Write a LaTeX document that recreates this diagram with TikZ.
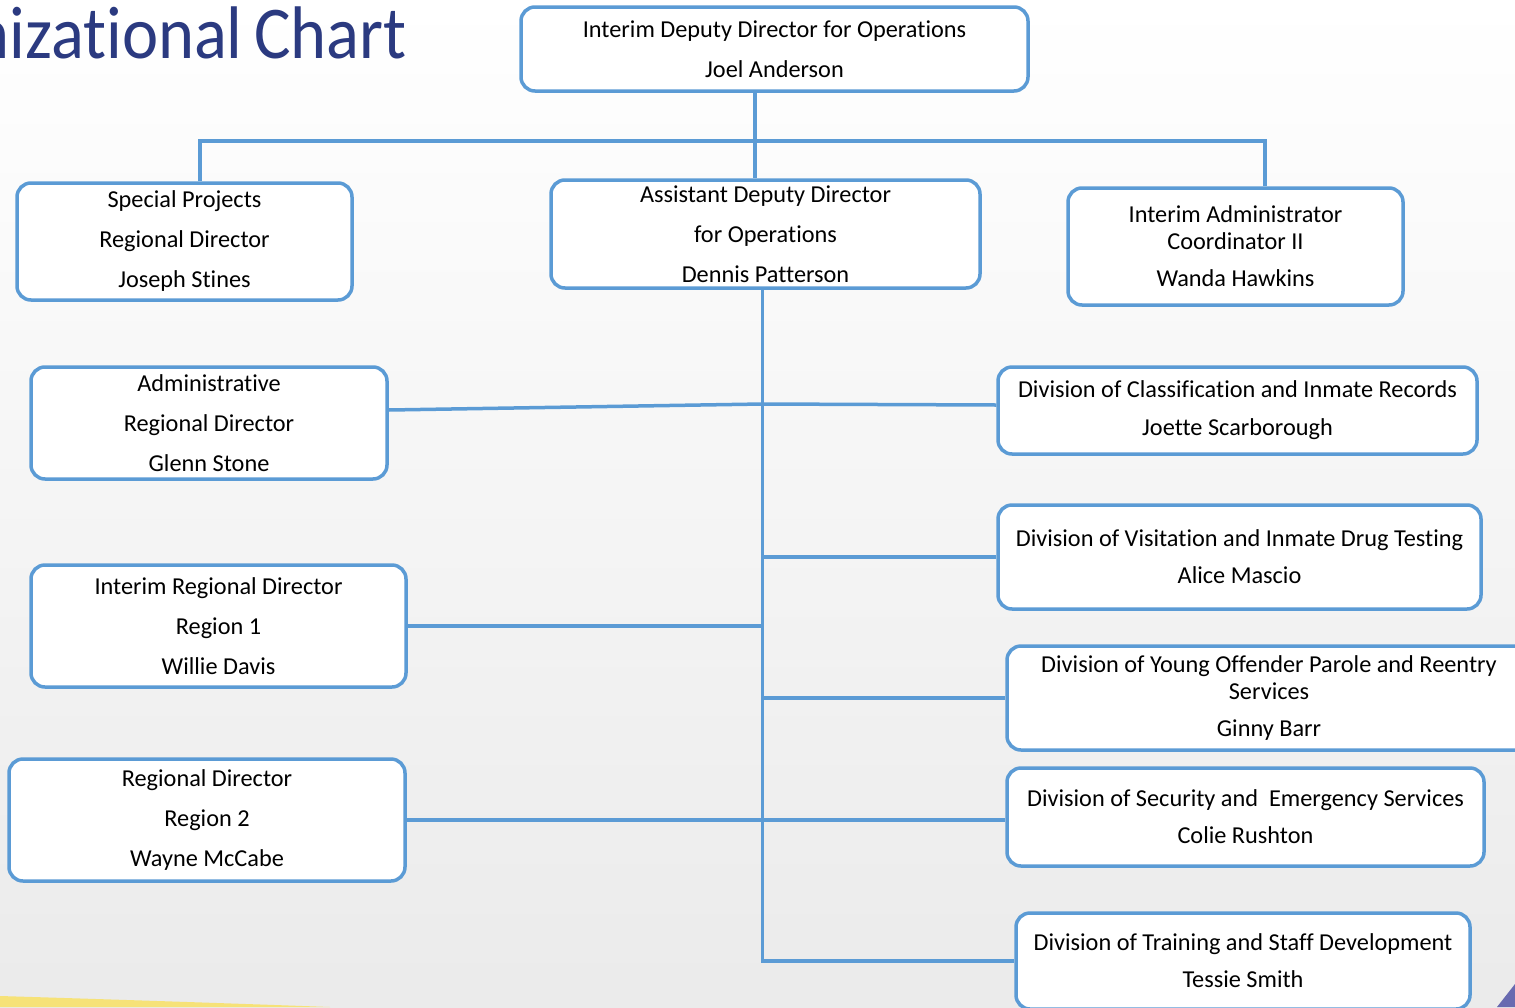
\documentclass[tikz,border=0pt]{standalone}
\usepackage{fontspec}
\setmainfont{Carlito}[Ligatures={NoCommon}]
\usetikzlibrary{positioning}
\definecolor{chartblue}{RGB}{91, 155, 213}
\definecolor{titleblue}{RGB}{43, 58, 128}
\definecolor{swoosh}{RGB}{246, 226, 120}
\definecolor{corner}{RGB}{104, 106, 176}

\begin{document}
\begin{tikzpicture}[x=1pt, y=-1pt,
        unit/.style={draw=chartblue, line width=3.5pt, rounded corners=14pt, fill=white,
            align=center, inner sep=0pt, font=\fontsize{24.3}{27}\selectfont},
        wire/.style={draw=chartblue, line width=3.5pt},
        heading/.style={text=titleblue, inner sep=0pt, font=\fontsize{74.5}{80}\selectfont}]

        \useasboundingbox (0,0) rectangle (1515,1007);

        % Background
        \shade[top color=white, bottom color=black!8] (0,0) rectangle (1515,1007);
        \fill[swoosh] (0,996) .. controls (100,999) and (250,1004) .. (330,1007) -- (0,1007) -- cycle;
        \fill[corner] (1497,1007) -- (1515,984) -- (1515,1007) -- cycle;

        \node[heading, anchor=base east] (title) at (243,58) {\scalebox{0.92}[1]{Organizational}};
        \node[heading, anchor=base west] (chart) at (254,58) {\scalebox{0.92}[1]{Chart}};

        % Top
        \node[unit, minimum width=507, minimum height=84] (iddo) at (774.5,49)
        {Interim Deputy Director for Operations\\[13pt]Joel Anderson};

        \node[unit, minimum width=335, minimum height=117] (spec) at (184.5,241.5)
        {Special Projects\\[13pt]Regional Director\\[13pt]Joseph Stines};

        \node[unit, minimum width=429, minimum height=108] (addo) at (765.5,234)
        {Assistant Deputy Director\\[13pt]for Operations\\[13pt]Dennis Patterson};

        \node[unit, minimum width=335, minimum height=117] (coord) at (1235.5,246.5)
        {Interim Administrator\\Coordinator II\\[10pt]Wanda Hawkins};

        \coordinate (busL) at (200,141);
        \coordinate (busM) at (755,141);
        \coordinate (busR) at (1265,141);

        \draw[wire] (busM |- iddo.south) -- (busM |- addo.north);
        \draw[wire] (busL |- spec.north) -- (busL) -- (busR) -- (busR |- coord.north);

        % Left
        \node[unit, minimum width=356, minimum height=112] (admin) at (209,423)
        {Administrative\\[13pt]Regional Director\\[13pt]Glenn Stone};

        \node[unit, minimum width=375, minimum height=122] (reg1) at (218.5,626)
        {Interim Regional Director\\[13pt]Region 1\\[13pt]Willie Davis};

        \node[unit, minimum width=396, minimum height=122] (reg2) at (207,820)
        {Regional Director\\[13pt]Region 2\\[13pt]Wayne McCabe};

        % Right
        \node[unit, minimum width=479, minimum height=87] (classif) at (1237.5,410.5)
        {Division of Classification and Inmate Records\\[11pt]Joette Scarborough};

        \node[unit, minimum width=483, minimum height=104] (visit) at (1239.5,557)
        {Division of Visitation and Inmate Drug Testing\\[10pt]Alice Mascio};

        \node[unit, minimum width=524, minimum height=104] (young) at (1269,698)
        {Division of Young Offender Parole and Reentry\\Services\\[10pt]Ginny Barr};

        \node[unit, minimum width=477, minimum height=98] (secur) at (1245.5,817)
        {Division of Security and\ \ Emergency Services\\[10pt]Colie Rushton};

        \node[unit, minimum width=454, minimum height=96] (train) at (1243,961)
        {Division of Training and Staff Development\\[10pt]Tessie Smith};

        % Spine
        \coordinate (spine) at ([xshift=-3pt]addo.south);
        \draw[wire] (spine) -- (spine |- train.west) -- (train.west);
        \draw[wire] ([yshift=13pt]admin.east) -- ([yshift=19pt]admin.east -| spine) -- ([yshift=5.5pt]classif.west);
        \draw[wire] (reg1.east) -- (reg1.east -| spine);
        \draw[wire] (reg2.east) -- (reg2.east -| secur.west);
        \draw[wire] (visit.west) -- (visit.west -| spine);
        \draw[wire] (young.west) -- (young.west -| spine);
\end{tikzpicture}
\end{document}
